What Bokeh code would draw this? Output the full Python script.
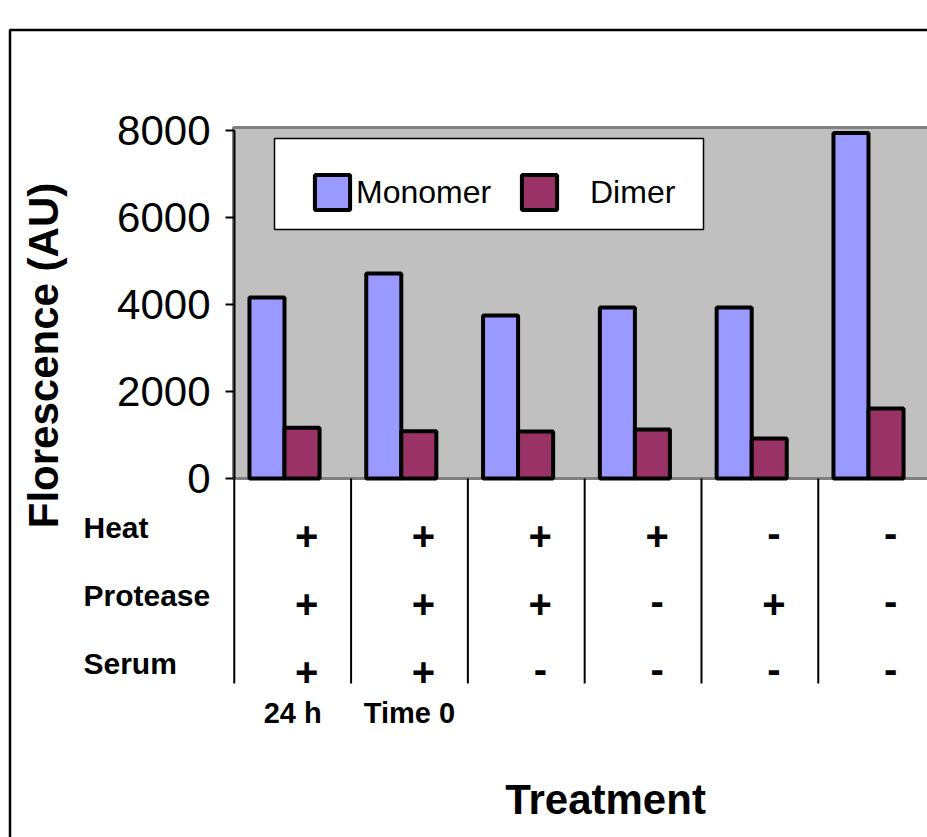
import math
from bokeh.plotting import figure
from bokeh.models import (Range1d, FixedTicker, BoxAnnotation, Legend, LegendItem,
                          Label, LabelSet, ColumnDataSource, LinearAxis)
from bokeh.core.properties import value
from bokeh.embed import file_html
from bokeh.resources import INLINE

# ---------------- data ----------------
groups = ["24 h", "Time 0", "", "", "", ""]
monomer = [4160, 4710, 3750, 3930, 3930, 7940]
dimer = [1165, 1085, 1080, 1125, 920, 1610]
heat = ["+", "+", "+", "+", "-", "-"]
protease = ["+", "+", "+", "-", "+", "-"]
serum = ["+", "+", "-", "-", "-", "-"]
row_names = ["Heat", "Protease", "Serum"]
y_ticks = [0, 2000, 4000, 6000, 8000]

FONT = "Liberation Sans"
W, H = 927, 837
AXIS_PX = 234              # x pixel of the value axis
PX_PER_X = 116.8
G0_PX = 284                # pixel of first group centre
Y0_PX, YMAX_PX = 478, 130
U = 8000 / (Y0_PX - YMAX_PX)   # data units per px

def px2x(px):
    return (px - G0_PX) / PX_PER_X

def px2y(py):
    return (Y0_PX - py) * U

p = figure(width=W, height=H, output_backend="svg", toolbar_location=None,
           x_range=Range1d(px2x(0), px2x(W)), y_range=Range1d(px2y(H), px2y(0)),
           x_axis_location=None, y_axis_location=None,
           min_border_left=0, min_border_top=0, min_border_right=0, min_border_bottom=0,
           title=None)
p.background_fill_color = "white"
p.border_fill_color = "white"
p.outline_line_color = None
p.xgrid.visible = False
p.ygrid.visible = False

# grey plot area
p.add_layout(BoxAnnotation(left=px2x(AXIS_PX - 1), right=px2x(3000), bottom=0, top=px2y(127),
                           fill_color="#C0C0C0", fill_alpha=1, line_color="#808080",
                           line_alpha=1, line_width=3, level="underlay"))

idx = list(range(len(groups)))
bw = 0.3
src = ColumnDataSource(dict(xm=[i - bw / 2 for i in idx], xd=[i + bw / 2 for i in idx],
                            monomer=monomer, dimer=dimer))
rm = p.vbar(x="xm", top="monomer", width=bw, bottom=0, source=src,
            fill_color="#9999FF", line_color="black", line_width=4)
rd = p.vbar(x="xd", top="dimer", width=bw, bottom=0, source=src,
            fill_color="#993366", line_color="black", line_width=4)

# y axis (fixed at the left edge of the grey area)
ax = LinearAxis(fixed_location=px2x(AXIS_PX))
ax.ticker = FixedTicker(ticks=y_ticks)
ax.bounds = (0, 8000)
ax.minor_tick_line_color = None
ax.axis_line_width = 2
ax.axis_line_color = "black"
ax.major_tick_line_width = 2
ax.major_tick_line_color = "black"
ax.major_tick_out = 9
ax.major_tick_in = 0
ax.major_label_standoff = 15
ax.major_label_text_font = FONT
ax.major_label_text_font_size = "42px"
ax.major_label_text_color = "black"
p.add_layout(ax, "left")

# y title
p.add_layout(Label(x=px2x(43), y=px2y(355), text="Florescence (AU)", angle=math.pi / 2,
                   text_align="center", text_baseline="middle", text_font=FONT,
                   text_font_style="bold", text_font_size="42px", text_color="black"))

# separators under the axis
p.segment(x0=[i - 0.43 for i in idx], x1=[i - 0.43 for i in idx],
          y0=[0] * len(idx), y1=[px2y(683)] * len(idx), line_color="black", line_width=2)

# row labels
for name, cy in zip(row_names, [527, 595, 663]):
    p.add_layout(Label(x=px2x(83), y=px2y(cy), text=name, text_align="left",
                       text_baseline="middle", text_font=FONT, text_font_style="bold",
                       text_font_size="30px", text_color="black"))

# +/- signs
sx, sy, st, so = [], [], [], []
for row, cy in zip([heat, protease, serum], [535, 603, 671]):
    for i, s in enumerate(row):
        sx.append(i + 0.19)
        sy.append(px2y(cy))
        st.append(s)
        so.append(-14 if s == "+" else -11)
p.add_layout(LabelSet(x="sx", y="sy", text="st", y_offset="so",
                      source=ColumnDataSource(dict(sx=sx, sy=sy, st=st, so=so)),
                      text_align="center", text_baseline="alphabetic",
                      text_font=value(FONT), text_font_style="bold",
                      text_font_size="40px", text_color="black"))

# group labels
gx = [i + 0.07 for i, g in enumerate(groups) if g]
gt = [g for g in groups if g]
p.add_layout(LabelSet(x="gx", y="gy", text="gt",
                      source=ColumnDataSource(dict(gx=gx, gy=[px2y(722)] * len(gx), gt=gt)),
                      text_align="center", text_baseline="alphabetic",
                      text_font=value(FONT), text_font_style="bold",
                      text_font_size="29px", text_color="black"))

# x title
p.add_layout(Label(x=px2x(605), y=px2y(799), text="Treatment", text_align="center",
                   text_baseline="middle", text_font=FONT, text_font_style="bold",
                   text_font_size="42px", text_color="black"))

# legend box
p.add_layout(BoxAnnotation(left=px2x(274), right=px2x(703), top=px2y(138), bottom=px2y(229),
                           fill_color="white", fill_alpha=1, line_color="black",
                           line_alpha=1, line_width=1.5))

def mk_legend(label, r, vx, standoff):
    return Legend(items=[LegendItem(label=label, renderers=[r])], location=(vx, H - 214),
                  orientation="horizontal", glyph_width=44, glyph_height=44,
                  label_standoff=standoff, padding=0, margin=0, spacing=0,
                  background_fill_alpha=0, border_line_alpha=0,
                  label_text_font=FONT, label_text_font_size="32px",
                  label_text_color="black")

p.add_layout(mk_legend("Monomer", rm, 310, 2))
p.add_layout(mk_legend("Dimer", rd, 517, 29))

# outer border
p.add_layout(BoxAnnotation(left=px2x(9.5), right=px2x(3000), top=px2y(29.5), bottom=px2y(3000),
                           fill_alpha=0, line_color="black", line_alpha=1, line_width=2.5))

open("out.html", "w").write(file_html(p, INLINE))
